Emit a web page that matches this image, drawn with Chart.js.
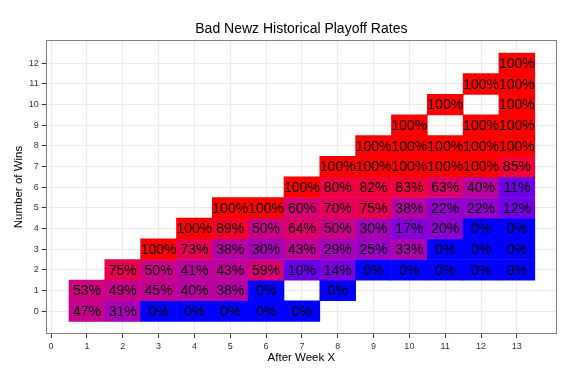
<!DOCTYPE html>
<html>
<head>
<meta charset="utf-8">
<script src="https://cdn.jsdelivr.net/npm/chart.js@4/dist/chart.umd.min.js"></script>
<style>
  html, body { margin: 0; padding: 0; background: #fff; }
</style>
</head>
<body>
<canvas id="chart" width="577" height="377"></canvas>
<script>
var FONT = '"Liberation Sans", Arial, sans-serif';

// weeks (x) and win counts (y)
var weeks = [1, 2, 3, 4, 5, 6, 7, 8, 9, 10, 11, 12, 13];
var xTicks = [0, 1, 2, 3, 4, 5, 6, 7, 8, 9, 10, 11, 12, 13];
var yTicks = [0, 1, 2, 3, 4, 5, 6, 7, 8, 9, 10, 11, 12];

// playoff rate (%) per week 1..13, one array per number of wins; null = no team
var wins0  = [47, 31, 0, 0, 0, 0, 0, null, null, null, null, null, null];
var wins1  = [53, 49, 45, 40, 38, 0, null, 0, null, null, null, null, null];
var wins2  = [null, 75, 50, 41, 43, 59, 10, 14, 0, 0, 0, 0, 0];
var wins3  = [null, null, 100, 73, 38, 30, 43, 29, 25, 33, 0, 0, 0];
var wins4  = [null, null, null, 100, 89, 50, 64, 50, 30, 17, 20, 0, 0];
var wins5  = [null, null, null, null, 100, 100, 60, 70, 75, 38, 22, 22, 12];
var wins6  = [null, null, null, null, null, null, 100, 80, 82, 83, 63, 40, 11];
var wins7  = [null, null, null, null, null, null, null, 100, 100, 100, 100, 100, 85];
var wins8  = [null, null, null, null, null, null, null, null, 100, 100, 100, 100, 100];
var wins9  = [null, null, null, null, null, null, null, null, null, 100, null, 100, 100];
var wins10 = [null, null, null, null, null, null, null, null, null, null, 100, null, 100];
var wins11 = [null, null, null, null, null, null, null, null, null, null, null, 100, 100];
var wins12 = [null, null, null, null, null, null, null, null, null, null, null, null, 100];
var rateRows = [wins0, wins1, wins2, wins3, wins4, wins5, wins6, wins7, wins8, wins9, wins10, wins11, wins12];

// blue -> red gradient in Lab space, like ggplot's scale_fill_gradient
function lin(c) { c /= 255; return c <= 0.04045 ? c / 12.92 : Math.pow((c + 0.055) / 1.055, 2.4); }
function unlin(c) {
  c = c <= 0.0031308 ? 12.92 * c : 1.055 * Math.pow(c, 1 / 2.4) - 0.055;
  return Math.round(Math.min(1, Math.max(0, c)) * 255);
}
function toLab(rgb) {
  var r = lin(rgb[0]), g = lin(rgb[1]), b = lin(rgb[2]);
  var x = (0.4124 * r + 0.3576 * g + 0.1805 * b) / 0.95047;
  var y = (0.2126 * r + 0.7152 * g + 0.0722 * b);
  var z = (0.0193 * r + 0.1192 * g + 0.9505 * b) / 1.08883;
  var f = function(t) { return t > 0.008856 ? Math.cbrt(t) : 7.787 * t + 16 / 116; };
  return [116 * f(y) - 16, 500 * (f(x) - f(y)), 200 * (f(y) - f(z))];
}
function fromLab(lab) {
  var fy = (lab[0] + 16) / 116, fx = fy + lab[1] / 500, fz = fy - lab[2] / 200;
  var fi = function(t) { return t * t * t > 0.008856 ? t * t * t : (t - 16 / 116) / 7.787; };
  var x = fi(fx) * 0.95047, y = fi(fy), z = fi(fz) * 1.08883;
  var r = 3.2406 * x - 1.5372 * y - 0.4986 * z;
  var g = -0.9689 * x + 1.8758 * y + 0.0415 * z;
  var b = 0.0557 * x - 0.2040 * y + 1.0570 * z;
  return 'rgb(' + unlin(r) + ',' + unlin(g) + ',' + unlin(b) + ')';
}
var LOW = toLab([0, 0, 255]);
var HIGH = toLab([255, 0, 0]);
function ramp(t) {
  return fromLab([0, 1, 2].map(function(k) { return LOW[k] + (HIGH[k] - LOW[k]) * t; }));
}

var cells = [];
rateRows.forEach(function(row, w) {
  row.forEach(function(v, i) {
    if (v !== null) cells.push({ x: weeks[i], y: [yTicks[w] - 0.5, yTicks[w] + 0.5], v: v });
  });
});

var cellLabels = {
  id: 'cellLabels',
  afterDatasetsDraw: function(chart) {
    var c = chart.ctx;
    var a = chart.chartArea;
    c.save();
    c.strokeStyle = '#7f7f7f';
    c.lineWidth = 1;
    c.strokeRect(Math.round(a.left) + 0.5, Math.round(a.top) + 0.5,
      Math.round(a.right - a.left) - 1, Math.round(a.bottom - a.top) - 1);
    c.font = '14px ' + FONT;
    c.fillStyle = '#000';
    c.textAlign = 'center';
    c.textBaseline = 'middle';
    chart.getDatasetMeta(0).data.forEach(function(bar, i) {
      c.fillText(cells[i].v + '%', bar.x, (bar.y + bar.base) / 2 + 1);
    });
    c.restore();
  }
};

function setTicks(list) {
  return function(scale) {
    scale.ticks = list.map(function(v) { return { value: v }; });
  };
}

var chart = new Chart(document.getElementById('chart'), {
  type: 'bar',
  data: {
    datasets: [{
      data: cells,
      backgroundColor: cells.map(function(c) { return ramp(c.v / 100); }),
      borderWidth: 0,
      barPercentage: 1,
      categoryPercentage: 1
    }]
  },
  options: {
    responsive: false,
    animation: false,
    devicePixelRatio: 1,
    layout: { padding: { left: 0, right: 20, top: 0, bottom: 0 } },
    plugins: {
      legend: { display: false },
      tooltip: { enabled: false },
      title: {
        display: true,
        text: 'Bad Newz Historical Playoff Rates',
        color: '#000',
        fullSize: false,
        font: { family: FONT, size: 14, weight: 'normal' },
        padding: { top: 21, bottom: 2.2 }
      }
    },
    scales: {
      x: {
        type: 'linear',
        min: -0.15,
        max: 14.12,
        offset: false,
        afterBuildTicks: setTicks(xTicks),
        afterFit: function(s) { s.height = 43; },
        border: { display: false },
        grid: { color: '#ebebeb', tickColor: '#333', tickLength: 4, offset: false },
        ticks: { color: '#333', font: { family: FONT, size: 9 }, padding: 3, autoSkip: false, maxRotation: 0 },
        title: { display: true, text: 'After Week X', color: '#000', font: { family: FONT, size: 11.5 }, padding: { top: 0, bottom: 12 } }
      },
      y: {
        type: 'linear',
        min: -1.11,
        max: 13.13,
        afterBuildTicks: setTicks(yTicks),
        afterFit: function(s) { s.width = 45.7; },
        border: { display: false },
        grid: { color: '#ebebeb', tickColor: '#333', tickLength: 4 },
        ticks: { color: '#333', font: { family: FONT, size: 9 }, padding: 3, autoSkip: false },
        title: { display: true, text: 'Number of Wins', color: '#000', font: { family: FONT, size: 11.5 }, padding: { top: 11.5, bottom: 0 } }
      }
    }
  },
  plugins: [cellLabels]
});
</script>
</body>
</html>
